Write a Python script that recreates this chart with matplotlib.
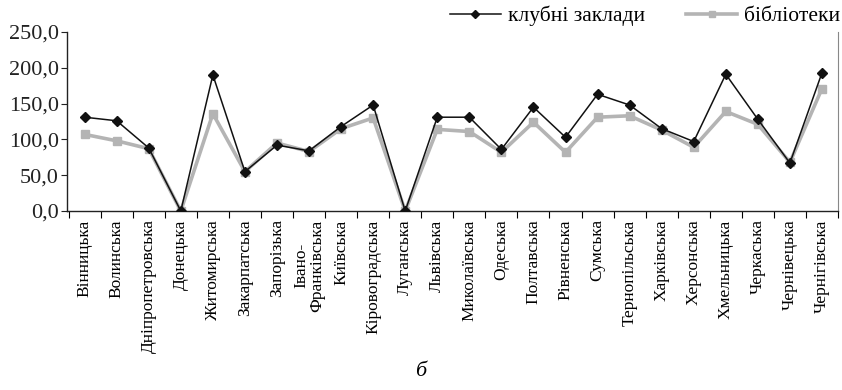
import matplotlib.pyplot as plt
from matplotlib.ticker import FuncFormatter

plt.rcParams['font.family'] = ['Liberation Serif', 'DejaVu Serif']

regions = ['Вінницька', 'Волинська', 'Дніпропетровська', 'Донецька', 'Житомирська',
           'Закарпатська', 'Запорізька', 'Івано-\nФранківська', 'Київська', 'Кіровоградська',
           'Луганська', 'Львівська', 'Миколаївська', 'Одеська', 'Полтавська', 'Рівненська',
           'Сумська', 'Тернопільська', 'Харківська', 'Херсонська', 'Хмельницька',
           'Черкаська', 'Чернівецька', 'Чернігівська']
clubs = [131, 126, 88, 0, 190, 55, 92, 84, 118, 148, 0, 131, 131, 86, 145, 103,
         163, 148, 115, 97, 191, 128, 67, 193]
libraries = [107, 98, 87, 0, 136, 55, 95, 83, 115, 130, 0, 114, 111, 82, 124, 82,
             131, 133, 113, 89, 139, 121, 68, 171]

fig = plt.figure(figsize=(8.42, 3.9), dpi=100)
ax = fig.add_axes([67 / 842, 1 - 211 / 390, (838 - 67) / 842, (211 - 32) / 390])

x = list(range(len(regions)))
ax.plot(x, libraries, color='#b4b4b4', lw=2.6, marker='s', ms=6, label='бібліотеки', zorder=2)
ax.plot(x, clubs, color='#111111', lw=1.1, marker='D', ms=5, label='клубні заклади', zorder=3)

ax.set_ylim(0, 250)
ax.set_xlim(-0.55, len(regions) - 0.5)
ax.set_yticks([0, 50, 100, 150, 200, 250])
ax.yaxis.set_major_formatter(FuncFormatter(lambda v, p: f'{v:.1f}'.replace('.', ',')))
ax.tick_params(axis='y', labelsize=16, length=4, direction='out', colors='#222222', pad=2)

ax.set_xticks([i - 0.5 for i in range(len(regions) + 1)], minor=False)
ax.set_xticklabels([])
ax.set_xticks(x, minor=True)
ax.set_xticklabels(regions, minor=True, rotation=90, fontsize=12.5, va='top', ha='center',
                   linespacing=1.0)
ax.tick_params(axis='x', which='major', length=5, direction='out')
ax.tick_params(axis='x', which='minor', length=0, pad=6)

ax.spines['top'].set_visible(False)
ax.spines['right'].set_color('#888888')
ax.spines['right'].set_linewidth(0.8)
for s in ('left', 'bottom'):
    ax.spines[s].set_linewidth(1.0)
    ax.spines[s].set_color('#222222')

handles, labels = ax.get_legend_handles_labels()
fig.legend(handles[::-1], labels[::-1], loc='center right',
           bbox_to_anchor=(840 / 842, 1 - 16 / 390),
           ncol=2, frameon=False, fontsize=15.5, handlelength=2.4, handletextpad=0.3,
           columnspacing=1.9, borderaxespad=0.0, borderpad=0.0, markerscale=0.75)

fig.text(0.5, 1 - 372 / 390, 'б', ha='center', va='center', fontsize=16, style='italic')

fig.savefig('out.png', dpi=100)
